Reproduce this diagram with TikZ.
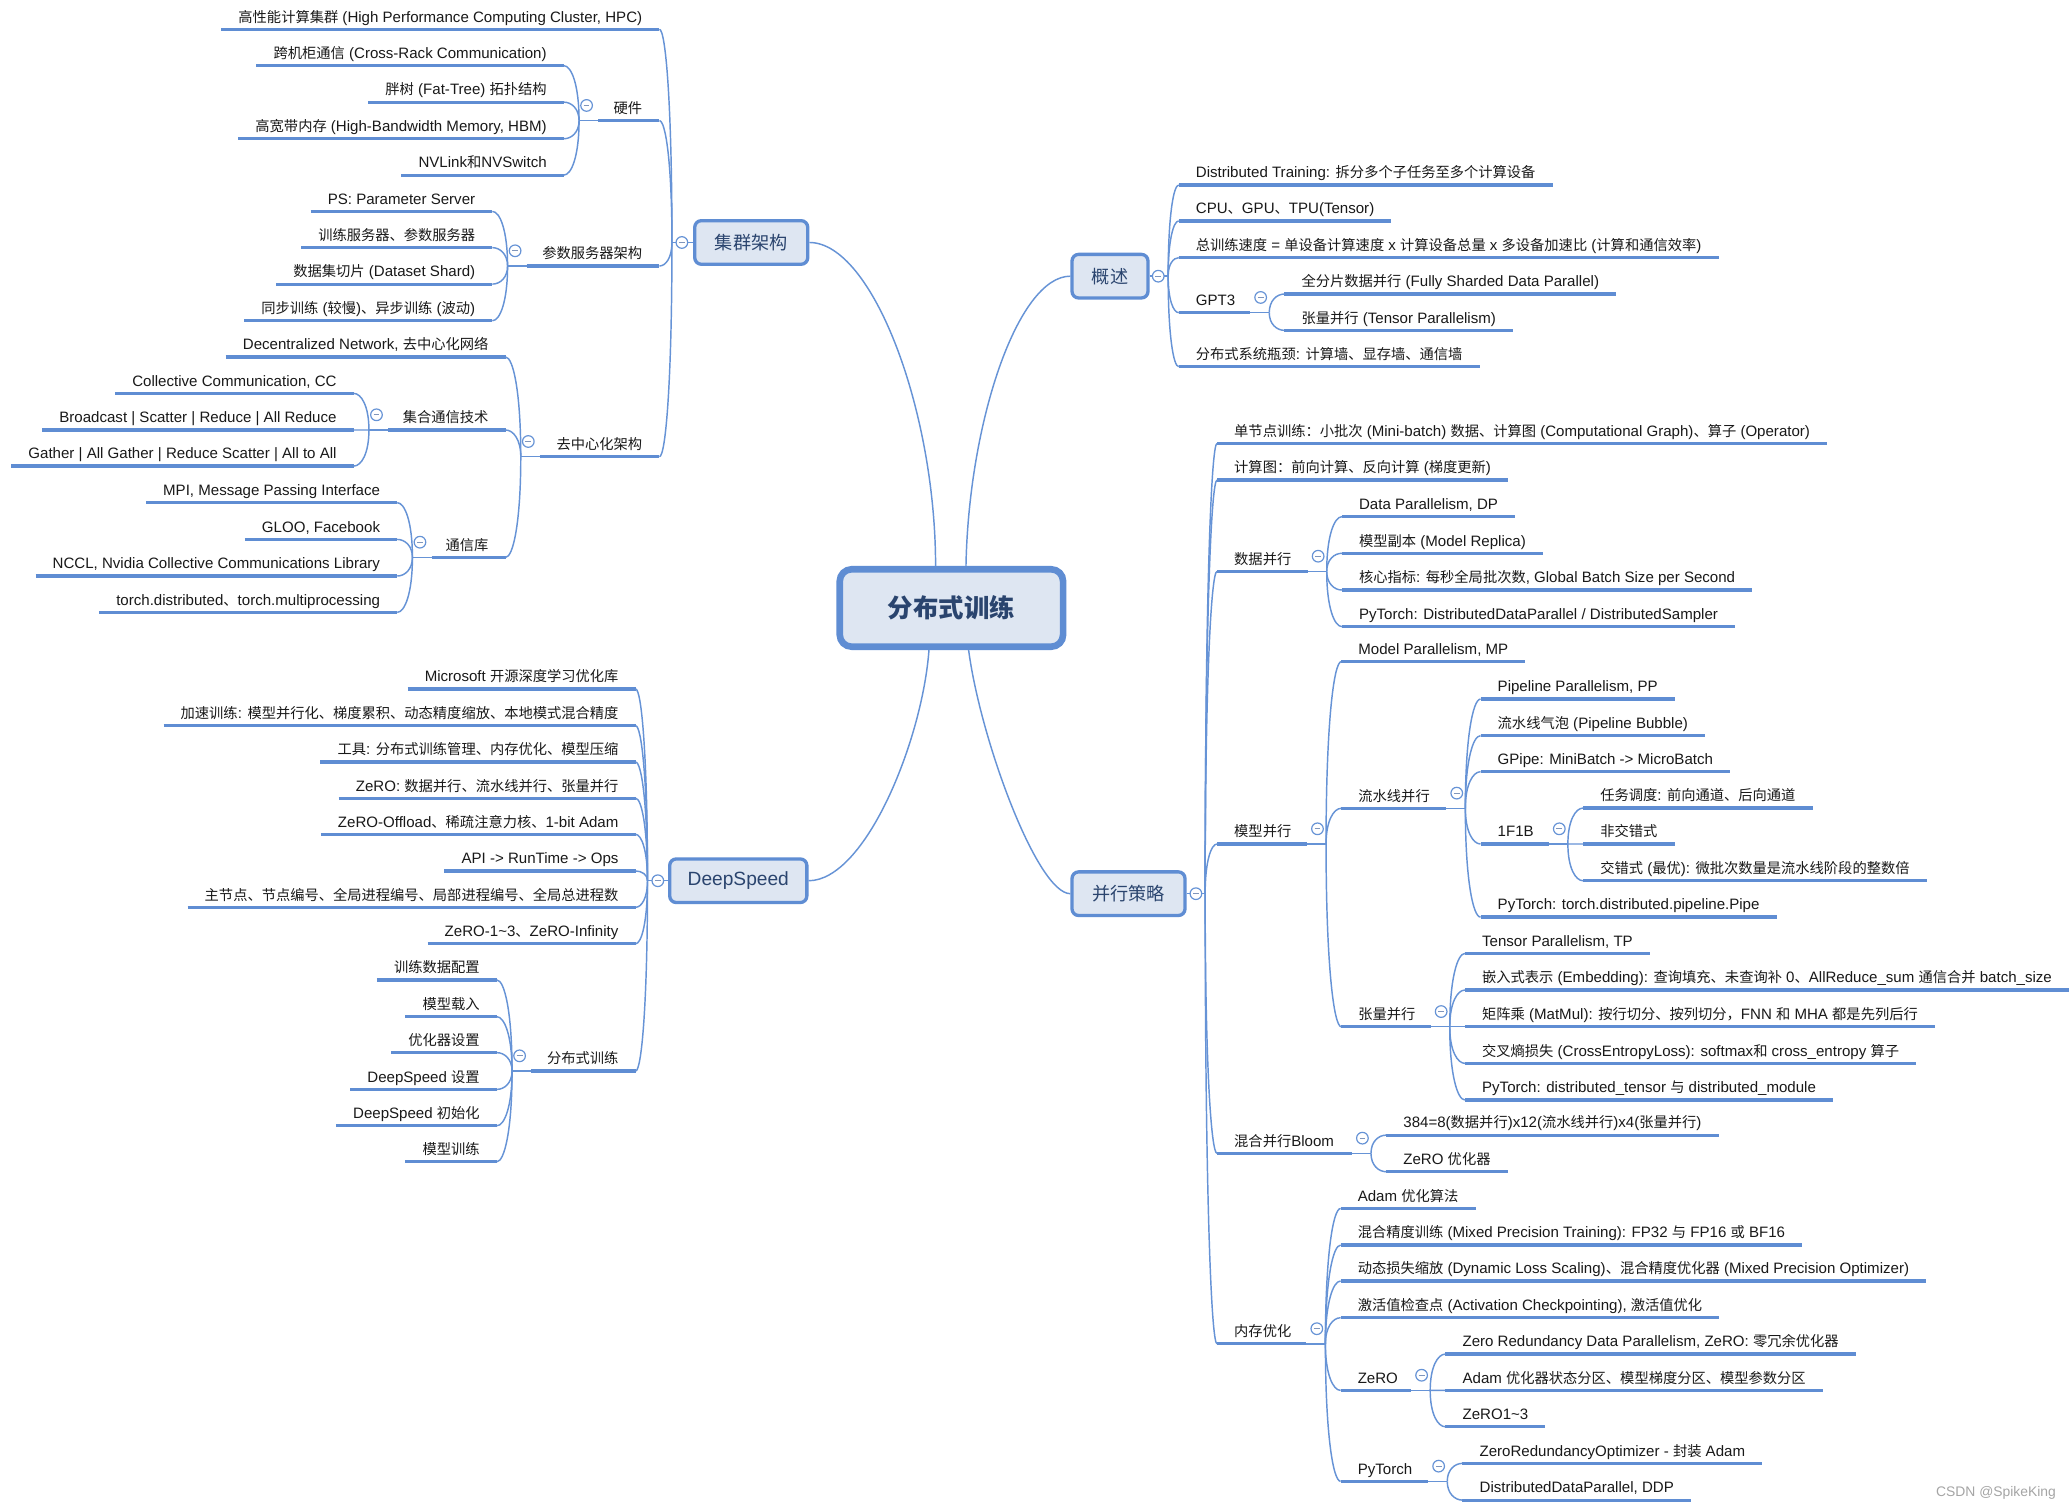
\documentclass[tikz,border=0pt]{standalone}
\usepackage{fontspec}
\setmainfont{Liberation Sans}
\newfontfamily\latinfont{Liberation Sans}
\newfontfamily\cjkfont[Scale=0.947]{Noto Sans CJK SC}
\usetikzlibrary{calc}
\XeTeXinterchartokenstate=1
\newXeTeXintercharclass\CJKcls
\newcount\cjkc
\cjkc="3000
\loop\XeTeXcharclass\cjkc=\CJKcls\relax\ifnum\cjkc<"303F \advance\cjkc by 1 \repeat
\cjkc="4E00
\loop\XeTeXcharclass\cjkc=\CJKcls\relax\ifnum\cjkc<"9FFF \advance\cjkc by 1 \repeat
\cjkc="FF00
\loop\XeTeXcharclass\cjkc=\CJKcls\relax\ifnum\cjkc<"FFEF \advance\cjkc by 1 \repeat
\XeTeXinterchartoks 0 \CJKcls = {\cjkfont}
\XeTeXinterchartoks 4095 \CJKcls = {\cjkfont}
\XeTeXinterchartoks \CJKcls 0 = {\latinfont}
\XeTeXinterchartoks \CJKcls 4095 = {\latinfont}
\definecolor{lnc}{RGB}{95,141,211}
\definecolor{cnc}{RGB}{102,147,214}
\definecolor{bxfill}{RGB}{222,230,242}
\definecolor{bxtext}{RGB}{42,68,110}
\definecolor{txc}{RGB}{25,25,25}
\definecolor{dshc}{RGB}{128,150,188}
\definecolor{wmc}{RGB}{165,165,165}
\newcommand\lffont{\latinfont\fontsize{11.4}{13}\selectfont}
\newcommand\bxfont{\latinfont\fontsize{14.5}{17}\selectfont}
\newcommand\rootfont{\latinfont\fontsize{20.3}{24}\selectfont\bfseries}
\tikzset{
  ul/.style={draw=lnc, line width=2.4},
  cl/.style={draw=cnc, line width=1.1},
  lf/.style={font=\lffont, text=txc, inner xsep=13, inner ysep=0, outer sep=0},
  ptext/.style={font=\lffont, text=txc, inner sep=0, outer sep=0},
  bx/.style={draw=lnc, fill=bxfill, line width=2.5, rounded corners=5, text=bxtext,
    font=\bxfont, inner sep=0, minimum width=85.5, minimum height=33},
  rootbox/.style={draw=lnc, fill=bxfill, line width=5, rounded corners=9, text=bxtext,
    font=\rootfont, inner sep=0, minimum width=169, minimum height=58.6}
}
\newcommand\colbtn[2]{\draw[cnc, line width=0.9, fill=white] (#1,#2) circle[radius=4.4];
  \draw[dshc, line width=0.9] (#1-2.2,#2) -- (#1+2.2,#2);}
\newcommand\conn[2]{\draw[cl] (#1) .. controls ($(#1|-#2)!0.35!(#1)$) and ($(#1|-#2)!0.5!(#2)$) .. (#2);}
% left leaf: name, x of right end, y of underline, text
\newcommand\leafL[4]{\coordinate (#1) at (#2,#3);
  \node[lf, anchor=base east] (#1t) at (#2,#3-5.5) {#4};
  \draw[ul] (#1t.west |- #1) -- (#1);}
% right leaf: name, x of left end, y, text
\newcommand\leafR[4]{\coordinate (#1) at (#2,#3);
  \node[lf, anchor=base west] (#1t) at (#2,#3-5.5) {#4};
  \draw[ul] (#1) -- (#1t.east |- #1);}
% left parent: name, xstart, xend, y, text
\newcommand\parL[5]{\coordinate (#1) at (#3,#4);
  \coordinate (#1s) at (#2,#4);
  \coordinate (#1j) at (#2-14.5,#4);
  \node[ptext, anchor=base east] (#1t) at (#3-13,#4-5.5) {#5};
  \draw[ul] (#1s) -- (#1);
  \draw[cl] (#1s) -- (#1j);
  \colbtn{#2-8.8}{#4-11.5}}
% right parent: name, xstart, xend, y, text
\newcommand\parR[5]{\coordinate (#1) at (#2,#4);
  \coordinate (#1e) at (#3,#4);
  \coordinate (#1j) at (#3+14.5,#4);
  \node[ptext, anchor=base west] (#1t) at (#2+13,#4-5.5) {#5};
  \draw[ul] (#1) -- (#1e);
  \draw[cl] (#1e) -- (#1j);
  \colbtn{#3+8}{#4-11.5}}
\begin{document}
\begin{tikzpicture}[x=1pt,y=-1pt]
\useasboundingbox (0,0) rectangle (1568,1142.7);
\fill[white] (0,0) rectangle (1568,1142.7);

% ---------- root and main branches ----------
\node[rootbox] (root) at (720,460.1) {分布式训练};
\node[bx] (ja) at (568.5,183.5) {集群架构};
\node[bx, minimum width=103.8] (ds) at (558.7,666.5) {DeepSpeed};
\node[bx, minimum width=57.5] (gs) at (840,209) {概述};
\node[bx] (cl) at (854,676.3) {并行策略};

\draw[cl] ($(root.north)+(-12,0)$) .. controls (708,310) and (660,183.5) .. (ja.east);
\draw[cl] ($(root.north)+(11,0)$) .. controls (733,320) and (770,209) .. (gs.west);
\draw[cl] ($(root.south)+(-17,0)$) .. controls (698,560) and (655,666.5) .. (ds.east);
\draw[cl] ($(root.south)+(13,0)$) .. controls (742,560) and (785,676.3) .. (cl.west);

% ---------- 集群架构 ----------
\coordinate (jaj) at (508.5,183.5);
\draw[cl] (ja.west) -- (jaj);
\colbtn{516}{183.5}
\leafL{hpc}{499}{22.2}{高性能计算集群 (High Performance Computing Cluster, HPC)}
\parL{hw}{452.7}{499}{91.3}{硬件}
\parL{ps}{398.6}{499}{201.3}{参数服务器架构}
\parL{dc}{408.6}{499}{345.6}{去中心化架构}
\conn{jaj}{hpc}\conn{jaj}{hw}\conn{jaj}{ps}\conn{jaj}{dc}

\leafL{hwa}{426.7}{49.7}{跨机柜通信 (Cross-Rack Communication)}
\leafL{hwb}{426.7}{77.3}{胖树 (Fat-Tree) 拓扑结构}
\leafL{hwc}{426.7}{105}{高宽带内存 (High-Bandwidth Memory, HBM)}
\leafL{hwd}{426.7}{132.5}{NVLink和NVSwitch}
\conn{hwj}{hwa}\conn{hwj}{hwb}\conn{hwj}{hwc}\conn{hwj}{hwd}

\leafL{psa}{372.6}{160}{PS: Parameter Server}
\leafL{psb}{372.6}{187.4}{训练服务器、参数服务器}
\leafL{psc}{372.6}{215}{数据集切片 (Dataset Shard)}
\leafL{psd}{372.6}{242.7}{同步训练 (较慢)、异步训练 (波动)}
\conn{psj}{psa}\conn{psj}{psb}\conn{psj}{psc}\conn{psj}{psd}

\leafL{dca}{382.6}{270.2}{Decentralized Network, 去中心化网络}
\parL{cc}{293.7}{382.6}{325.4}{集合通信技术}
\parL{lib}{326.6}{382.6}{421.8}{通信库}
\conn{dcj}{dca}\conn{dcj}{cc}\conn{dcj}{lib}

\leafL{cca}{267.7}{297.7}{Collective Communication, CC}
\leafL{ccb}{267.7}{325.4}{Broadcast | Scatter | Reduce | All Reduce}
\leafL{ccc}{267.7}{352.7}{Gather | All Gather | Reduce Scatter | All to All}
\conn{ccj}{cca}\conn{ccj}{ccb}\conn{ccj}{ccc}

\leafL{liba}{300.6}{380.4}{MPI, Message Passing Interface}
\leafL{libb}{300.6}{408.2}{GLOO, Facebook}
\leafL{libc}{300.6}{435.9}{NCCL, Nvidia Collective Communications Library}
\leafL{libd}{300.6}{463.4}{torch.distributed、torch.multiprocessing}
\conn{libj}{liba}\conn{libj}{libb}\conn{libj}{libc}\conn{libj}{libd}

% ---------- DeepSpeed ----------
\coordinate (dsj) at (490,666.5);
\draw[cl] (ds.west) -- (dsj);
\colbtn{497.8}{666.5}
\leafL{dsa}{481}{521.4}{Microsoft 开源深度学习优化库}
\leafL{dsb}{481}{549.2}{加速训练: 模型并行化、梯度累积、动态精度缩放、本地模式混合精度}
\leafL{dsc}{481}{576.7}{工具: 分布式训练管理、内存优化、模型压缩}
\leafL{dsd}{481}{604.1}{ZeRO: 数据并行、流水线并行、张量并行}
\leafL{dse}{481}{631.4}{ZeRO-Offload、稀疏注意力核、1-bit Adam}
\leafL{dsf}{481}{659.1}{API -> RunTime -> Ops}
\leafL{dsg}{481}{686.6}{主节点、节点编号、全局进程编号、局部进程编号、全局总进程数}
\leafL{dsh}{481}{714.2}{ZeRO-1\textasciitilde3、ZeRO-Infinity}
\parL{dt}{402}{481}{810.5}{分布式训练}
\conn{dsj}{dsa}\conn{dsj}{dsb}\conn{dsj}{dsc}\conn{dsj}{dsd}\conn{dsj}{dse}
\conn{dsj}{dsf}\conn{dsj}{dsg}\conn{dsj}{dsh}\conn{dsj}{dt}

\leafL{dta}{376}{741.6}{训练数据配置}
\leafL{dtb}{376}{769.4}{模型载入}
\leafL{dtc}{376}{796.6}{优化器设置}
\leafL{dtd}{376}{824.4}{DeepSpeed 设置}
\leafL{dte}{376}{851.9}{DeepSpeed 初始化}
\leafL{dtf}{376}{879.1}{模型训练}
\conn{dtj}{dta}\conn{dtj}{dtb}\conn{dtj}{dtc}\conn{dtj}{dtd}\conn{dtj}{dte}\conn{dtj}{dtf}

% ---------- 概述 ----------
\coordinate (gsj) at (884,209);
\draw[cl] (gs.east) -- (gsj);
\colbtn{876.5}{209}
\leafR{gsa}{892}{140}{Distributed Training: 拆分多个子任务至多个计算设备}
\leafR{gsb}{892}{167.2}{CPU、GPU、TPU(Tensor)}
\leafR{gsc}{892}{195}{总训练速度 = 单设备计算速度 x 计算设备总量 x 多设备加速比 (计算和通信效率)}
\parR{gpt}{892}{946}{236.6}{GPT3}
\leafR{gse}{892}{277.5}{分布式系统瓶颈: 计算墙、显存墙、通信墙}
\conn{gsj}{gsa}\conn{gsj}{gsb}\conn{gsj}{gsc}\conn{gsj}{gpt}\conn{gsj}{gse}
\leafR{gpa}{972}{222.5}{全分片数据并行 (Fully Sharded Data Parallel)}
\leafR{gpb}{972}{250}{张量并行 (Tensor Parallelism)}
\conn{gptj}{gpa}\conn{gptj}{gpb}

% ---------- 并行策略 ----------
\coordinate (clj) at (912,676.3);
\draw[cl] (cl.east) -- (clj);
\colbtn{905}{676.3}
\leafR{cla}{921}{335.5}{单节点训练：小批次 (Mini-batch) 数据、计算图 (Computational Graph)、算子 (Operator)}
\leafR{clb}{921}{363.3}{计算图：前向计算、反向计算 (梯度更新)}
\parR{dp}{921}{989.5}{432.4}{数据并行}
\parR{mp}{921}{989}{638.7}{模型并行}
\parR{bl}{921}{1023}{872.8}{混合并行Bloom}
\parR{mem}{921}{988.5}{1017}{内存优化}
\conn{clj}{cla}\conn{clj}{clb}\conn{clj}{dp}\conn{clj}{mp}\conn{clj}{bl}\conn{clj}{mem}

\leafR{dpa}{1015.5}{391}{Data Parallelism, DP}
\leafR{dpb}{1015.5}{418.7}{模型副本 (Model Replica)}
\leafR{dpc}{1015.5}{446.5}{核心指标: 每秒全局批次数, Global Batch Size per Second}
\leafR{dpd}{1015.5}{474.2}{PyTorch: DistributedDataParallel / DistributedSampler}
\conn{dpj}{dpa}\conn{dpj}{dpb}\conn{dpj}{dpc}\conn{dpj}{dpd}

\leafR{mpa}{1015}{500.7}{Model Parallelism, MP}
\parR{pp}{1015}{1094.4}{611.7}{流水线并行}
\parR{tp}{1015}{1082.6}{777}{张量并行}
\conn{mpj}{mpa}\conn{mpj}{pp}\conn{mpj}{tp}

\leafR{ppa}{1120.4}{529}{Pipeline Parallelism, PP}
\leafR{ppb}{1120.4}{556.7}{流水线气泡 (Pipeline Bubble)}
\leafR{ppc}{1120.4}{584}{GPipe: MiniBatch -> MicroBatch}
\parR{fb}{1120.4}{1172}{638.7}{1F1B}
\leafR{ppe}{1120.4}{694}{PyTorch: torch.distributed.pipeline.Pipe}
\conn{ppj}{ppa}\conn{ppj}{ppb}\conn{ppj}{ppc}\conn{ppj}{fb}\conn{ppj}{ppe}

\leafR{fba}{1198}{611.5}{任务调度: 前向通道、后向通道}
\leafR{fbb}{1198}{638.7}{非交错式}
\leafR{fbc}{1198}{666.5}{交错式 (最优): 微批次数量是流水线阶段的整数倍}
\conn{fbj}{fba}\conn{fbj}{fbb}\conn{fbj}{fbc}

\leafR{tpa}{1108.6}{721.5}{Tensor Parallelism, TP}
\leafR{tpb}{1108.6}{749.2}{嵌入式表示 (Embedding): 查询填充、未查询补 0、AllReduce\_sum 通信合并 batch\_size}
\leafR{tpc}{1108.6}{777}{矩阵乘 (MatMul): 按行切分、按列切分，FNN 和 MHA 都是先列后行}
\leafR{tpd}{1108.6}{804.7}{交叉熵损失 (CrossEntropyLoss): softmax和 cross\_entropy 算子}
\leafR{tpe}{1108.6}{832.4}{PyTorch: distributed\_tensor 与 distributed\_module}
\conn{tpj}{tpa}\conn{tpj}{tpb}\conn{tpj}{tpc}\conn{tpj}{tpd}\conn{tpj}{tpe}

\leafR{bla}{1049}{859}{384=8(数据并行)x12(流水线并行)x4(张量并行)}
\leafR{blb}{1049}{886.7}{ZeRO 优化器}
\conn{blj}{bla}\conn{blj}{blb}

\leafR{mea}{1014.5}{914.5}{Adam 优化算法}
\leafR{meb}{1014.5}{942.2}{混合精度训练 (Mixed Precision Training): FP32 与 FP16 或 BF16}
\leafR{mec}{1014.5}{969.4}{动态损失缩放 (Dynamic Loss Scaling)、混合精度优化器 (Mixed Precision Optimizer)}
\leafR{med}{1014.5}{997.2}{激活值检查点 (Activation Checkpointing), 激活值优化}
\parR{zr}{1014.5}{1067.8}{1052.2}{ZeRO}
\parR{pyt}{1014.5}{1080.7}{1121}{PyTorch}
\conn{memj}{mea}\conn{memj}{meb}\conn{memj}{mec}\conn{memj}{med}\conn{memj}{zr}\conn{memj}{pyt}

\leafR{zra}{1093.8}{1024.7}{Zero Redundancy Data Parallelism, ZeRO: 零冗余优化器}
\leafR{zrb}{1093.8}{1052.2}{Adam 优化器状态分区、模型梯度分区、模型参数分区}
\leafR{zrc}{1093.8}{1079.7}{ZeRO1\textasciitilde3}
\conn{zrj}{zra}\conn{zrj}{zrb}\conn{zrj}{zrc}

\leafR{pya}{1106.7}{1107.4}{ZeroRedundancyOptimizer - 封装 Adam}
\leafR{pyb}{1106.7}{1135.2}{DistributedDataParallel, DDP}
\conn{pytj}{pya}\conn{pytj}{pyb}

\node[font=\latinfont\fontsize{10.5}{12}\selectfont, text=wmc, inner sep=0] (wm) at (1510.5,1130) {CSDN @SpikeKing};
\end{tikzpicture}
\end{document}
